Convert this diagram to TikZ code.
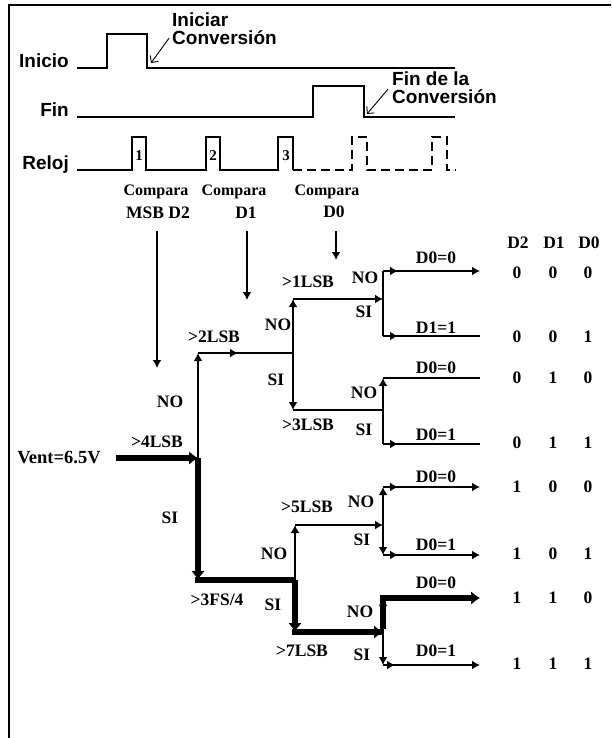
\documentclass[tikz,border=0pt]{standalone}
\usepackage{fontspec}
\setmainfont{Liberation Serif}
\setsansfont{Liberation Sans}
\usetikzlibrary{arrows.meta, calc, decorations.markings}

\newcommand{\sigfont}{\sffamily\bfseries\fontsize{19}{18}\selectfont}
\newcommand{\treefont}{\bfseries\fontsize{17.5}{18}\selectfont}

\tikzset{
  sig/.style={line width=2.4pt, line join=miter},
  wire/.style={line width=2.2pt},
  bus/.style={line width=6pt},
  tip/.style={-{Latex[length=8pt,width=9pt]}},
  bigtip/.style={-{Latex[length=9pt,width=14pt]}},
  tipat/.style={postaction={decorate}, decoration={markings,
      mark=at position #1 with {\arrow{Latex[length=8pt,width=9pt]}}}},
  siglbl/.style={font=\sigfont, inner sep=0pt},
  lbl/.style={font=\treefont, inner sep=0pt},
  bit/.style={font=\treefont, inner sep=0pt}
}

\begin{document}
\begin{tikzpicture}[x=1pt, y=-1pt]
  \useasboundingbox (0,0) rectangle (611,738);
  \draw[line width=2pt] (9,738) -- (9,5) -- (611,5);

  % timing
  \node[siglbl, anchor=base east] (inicio) at (69,68) {Inicio};
  \node[siglbl, anchor=base east] (fin) at (69,117) {Fin};
  \node[siglbl, anchor=base east] (reloj) at (69,170) {Reloj};
  \draw[sig] (77,68) -- (107,68) -- (107,34) -- (147,34) -- (147,68) -- (455,68);
  \draw[sig] (77,117) -- (313,117) -- (313,86) -- (364,86) -- (364,117) -- (455,117);
  \draw[sig] (77,170) -- (132,170) -- (132,137) -- (146,137) -- (146,170) -- (206,170)
    -- (206,137) -- (220,137) -- (220,170) -- (278,170) -- (278,137) -- (293,137) -- (293,170);
  \draw[sig, dash pattern=on 9pt off 5pt] (293,170) -- (352,170) -- (352,137) -- (367,137)
    -- (367,170) -- (432,170) -- (432,137) -- (447,137) -- (447,170) -- (456,170);
  \node[bit, font=\bfseries\fontsize{15}{15}\selectfont] (p1) at (139,156) {1};
  \node[bit, font=\bfseries\fontsize{15}{15}\selectfont] (p2) at (213,156) {2};
  \node[bit, font=\bfseries\fontsize{15}{15}\selectfont] (p3) at (286,156) {3};

  \node[siglbl, anchor=north west, align=left] (iniciar) at (172,13) {Iniciar\\Conversión};
  \coordinate (iniEdge) at (151,63);
  \draw[line width=0.9pt, -{Straight Barb[length=5pt]}] ([xshift=-3pt,yshift=-9pt]iniciar.west) -- (iniEdge);
  \node[siglbl, anchor=north west, align=left] (findela) at (392,72) {Fin de la\\Conversión};
  \coordinate (finEdge) at (367,114);
  \draw[line width=0.9pt, -{Straight Barb[length=5pt]}] ([xshift=-4pt,yshift=-1pt]findela.west) -- (finEdge);

  % comparisons
  \node[lbl, font=\bfseries\fontsize{16}{16}\selectfont] (cmp1) at (156,192) {Compara};
  \node[lbl, font=\bfseries\fontsize{16}{16}\selectfont] (cmp2) at (234,192) {Compara};
  \node[lbl, font=\bfseries\fontsize{16}{16}\selectfont] (cmp3) at (327,192) {Compara};
  \node[lbl] (msb) at (158,213) {MSB D2};
  \node[lbl] (dd1) at (246,213) {D1};
  \node[lbl] (dd0) at (334,212) {D0};
  \coordinate (a1) at (157,368);
  \coordinate (a2) at (247,300);
  \coordinate (a3) at (336,260);
  \draw[wire, tip] ($(a1 |- msb.south)+(0,12)$) -- (a1);
  \draw[wire, tip] ($(a2 |- dd1.south)+(0,12)$) -- (a2);
  \draw[wire, tip] ($(a3 |- dd0.south)+(0,13)$) -- (a3);

  % tree points
  \coordinate (j0) at (198,458);
  \coordinate (u4) at (198,353);
  \coordinate (j2) at (293,353);
  \coordinate (n1) at (293,299);
  \coordinate (s3) at (293,410);
  \coordinate (j3) at (383,299);
  \coordinate (t1) at (383,271);
  \coordinate (b1) at (383,336);
  \coordinate (j4) at (383,410);
  \coordinate (t3) at (383,378);
  \coordinate (b3) at (383,444);
  \coordinate (d4) at (198,580);
  \coordinate (j5) at (295,580);
  \coordinate (n5) at (295,525);
  \coordinate (s7) at (295,632);
  \coordinate (j6) at (383,525);
  \coordinate (t5) at (383,487);
  \coordinate (b5) at (383,555);
  \coordinate (j7) at (383,632);
  \coordinate (t7) at (383,598);
  \coordinate (b7) at (383,665);
  \foreach \n/\y in {e000/271, e001/336, e010/378, e011/444, e100/487, e101/555, e110/598, e111/665}
    \coordinate (\n) at (480,\y);

  \node[lbl, font=\bfseries\fontsize{18.5}{18}\selectfont] (vent) at (59,458) {Vent=6.5V};
  \draw[bus, bigtip] ([xshift=15pt]vent.east) -- (j0);

  % upper half
  \draw[wire, tip] (j0) -- (u4);
  \draw[wire, tipat=40pt] (u4) -- (j2);
  \draw[wire, tip] (j2) -- (n1);
  \draw[wire, tip] (j2) -- (s3);
  \draw[wire, tip] (n1) -- (j3);
  \draw[wire] (s3) -- (j4);
  \draw[wire] (t1) -- (b1);
  \draw[wire, tip, tipat=15pt] (t1) -- (e000);
  \draw[wire, tipat=15pt] (b1) -- (e001);
  \draw[wire, tip] (j4) -- (t3);
  \draw[wire] (j4) -- (b3);
  \draw[wire] (t3) -- (e010);
  \draw[wire, tipat=15pt] (b3) -- (e011);

  % lower half
  \draw[bus] ([xshift=-3pt]d4) -- (j5);
  \draw[bus, bigtip] (j0) -- (d4);
  \draw[wire, tip] (j5) -- (n5);
  \draw[bus] ([xshift=-3pt]s7) -- (j7);
  \draw[bus, bigtip] (j5) -- (s7);
  \draw[bus, bigtip] (s7) -- (j7);
  \draw[wire, tip] (n5) -- (j6);
  \draw[wire, tip] (j6) -- (t5);
  \draw[wire, tip] (j6) -- (b5);
  \draw[wire, tip, tipat=15pt] (t5) -- (e100);
  \draw[wire, tip, tipat=15pt] (b5) -- (e101);
  \draw[bus] ([yshift=3pt]j7) -- ([yshift=-3pt]t7);
  \draw[bus, bigtip] ([xshift=-3pt]t7) -- (e110);
  \draw[wire, tip] (j7) -- (t7);
  \draw[wire, tip] (j7) -- (b7);
  \draw[wire, tip, tipat=12pt] (b7) -- (e111);

  % branch labels
  \node[lbl] (l4) at (157,442) {>4LSB};
  \node[lbl] (no4) at (170,402) {NO};
  \node[lbl] (l2) at (214,337) {>2LSB};
  \node[lbl] (no2) at (278,325) {NO};
  \node[lbl] (si2) at (276,380) {SI};
  \node[lbl] (l1) at (308,282) {>1LSB};
  \node[lbl] (l3) at (308,425) {>3LSB};
  \node[lbl] (no1) at (365,278) {NO};
  \node[lbl] (si1) at (364,312) {SI};
  \node[lbl] (no3) at (364,393) {NO};
  \node[lbl] (si3) at (364,430) {SI};
  \node[lbl] (si4) at (170,518) {SI};
  \node[lbl] (l34) at (217,600) {>3FS/4};
  \node[lbl] (no6) at (274,554) {NO};
  \node[lbl] (si6) at (273,605) {SI};
  \node[lbl] (l5) at (307,507) {>5LSB};
  \node[lbl] (l7) at (302,651) {>7LSB};
  \node[lbl] (no5) at (361,502) {NO};
  \node[lbl] (si5) at (362,540) {SI};
  \node[lbl] (no7) at (360,612) {NO};
  \node[lbl] (si7) at (362,655) {SI};
  \foreach \n/\y/\t in {o000/258/D0=0, o001/328/D1=1, o010/368/D0=0, o011/435/D0=1,
                        o100/477/D0=0, o101/545/D0=1, o110/583/D0=0, o111/651/D0=1}
    \node[lbl] (\n) at (436,\y) {\t};

  % result table
  \node[lbl] (hd2) at (518,243) {D2};
  \node[lbl] (hd1) at (554,243) {D1};
  \node[lbl] (hd0) at (589,243) {D0};
  \foreach \y/\a/\b/\c [count=\i] in {273/0/0/0, 337/0/0/1, 378/0/1/0, 443/0/1/1,
                                      487/1/0/0, 554/1/0/1, 598/1/1/0, 664/1/1/1} {
    \node[bit] (r\i a) at (517,\y) {\a};
    \node[bit] (r\i b) at (553,\y) {\b};
    \node[bit] (r\i c) at (588,\y) {\c};
  }
\end{tikzpicture}
\end{document}
